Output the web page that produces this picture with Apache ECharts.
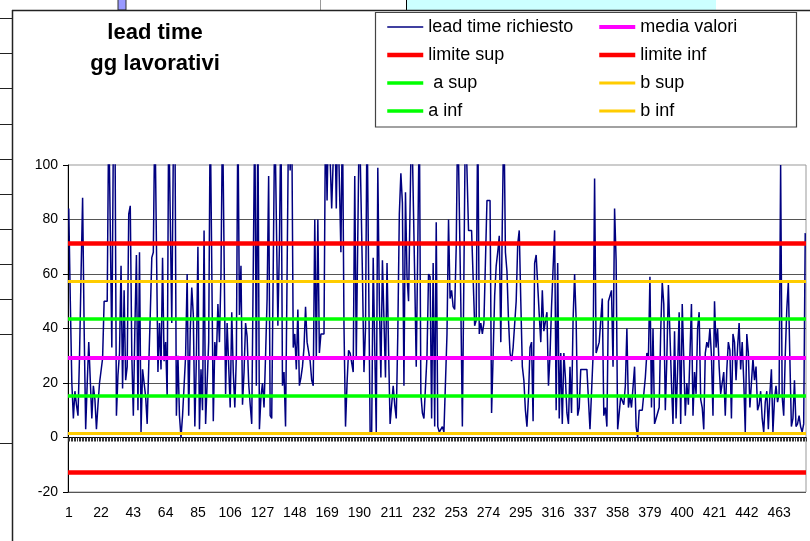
<!DOCTYPE html>
<html><head><meta charset="utf-8">
<script src="https://cdn.jsdelivr.net/npm/echarts@6/dist/echarts.min.js"></script>
<style>html,body{margin:0;padding:0;background:#fff}#c{width:810px;height:541px}</style>
</head><body><div id="c"></div>
<script>
// lead time richiesto (values above 100 are clipped by the axis)
const leadTime1 = [84,50,20,7,17,12,8,30,60,88, 40,3,20,35,35,7,19,14,3,12, 20,20,29,50,50,50,120,120,33,110, 120,
  8,23,31,63,18,54,21,26,82,85,30,8,40,67,10,68,2,25,20,15,5,26,45,66,68,120,120,24,42,25,66,28,35,15,120,120,42,105,120,8,30,8,0,8,8,30,60,8,39,55];
const leadTime2 = [45,4,29,70,3,25,10,76,5,5, 35,120,120,6,35,29,49,35,60,120, 120,16,42,42,11,46,24,11,30,120,45,
  63,12,24,42,37,20,12,5,5,120,19, 120,3,15,20,11,30,51,96,8,7,63, 120,120,41,70,120,19,24,4,60,120,98,120,
  33,38,25,47,19,22,26,33,48,35,35,28, 21,19,80,29];
const leadTime3 = [80,31,38,38,38,120,87,120,120,84, 84,120,84,120,120,68,120,41,4,20,32, 31,31,24,96,29,29,120,120,60,24,40,
  120,120,2,1,66,33,2,99,50,22,65, 65,22,64,32,5,5,19,12,7,38,82, 97,86,19,90,59,50,85,120,120,59,26,70,
  120,16,9,7,7,30,60,59,7,64,4, 79,4,2,3];
const leadTime4 = [4,2,20,38,80,51,54,48,47,70,120,120, 49,4,60,120,120,76,76,76,76,41,43, 120,38,42,38,42,42,87,87,87,9,30,
  52,63,68,74,35,80,120,68,61,43,31,28, 33,33,50,71,76,50,26,21,10,4,15,33, 35,6,64,67,67,45,35,54,39,39,46,
  19,30,48,48,76,10,64,7,31,5,31,22];
const leadTime5 = [9,5,26,9,43,60,43,8,11,25, 25,25,25,25,25,3,3,30,95,31,31,35, 43,51,8,11,4,50,50,54,26,
  84,65,3,3,15,15,12,19,40,11,15, 11,11,26,4,0,10,10,10,10,22, 31,29,59,11,40,5,7,9,11,39,57,
  49,10,29,56,38,20,5,39,7,25,46, 5,49,49,8,20,12,30];
const leadTime6 = [49,8,24,16,40,46,14,11,3,31, 35,33,40,30,8,50,33,40,26,16, 20,24,8,25,35,32,7,38,35,21,
  33,42,25,35,21,2,38,31,11,20, 29,21,26,10,12,17,7,2,13,17, 3,16,25,2,14,19,13,16,
  100, 15,8,30,47,57,29,4,7,21,4,5,8,4,2,5,75];
const leadTime = [].concat(leadTime1, leadTime2, leadTime3, leadTime4, leadTime5, leadTime6);
const categories = leadTime.map((v, i) => String(i + 1));

// reference levels
const mediaValori = 29.3;
const limiteSup = 71.3;
const limiteInf = -12.9;
const aSup = 43.7;
const aInf = 15.4;
const bSup = 57.5;
const bInf = 1.6;

const yMin = -20, yMax = 100, yStep = 20;
const FONT = '"Liberation Sans", Arial, sans-serif';

// series styles
const STYLE = {
  'lead time richiesto': { color: '#000080', width: 1.5 },
  'media valori': { color: '#ff00ff', width: 4 },
  'limite sup': { color: '#ff0000', width: 4.5 },
  'limite inf': { color: '#ff0000', width: 4.5 },
  ' a sup': { color: '#00ff00', width: 3.5 },
  'b sup': { color: '#ffcc00', width: 3 },
  'a inf': { color: '#00ff00', width: 3.5 },
  'b inf': { color: '#ffcc00', width: 3 }
};

function hLine(name, value) {
  const { color, width } = STYLE[name];
  return {
    name, type: 'line', data: [], symbol: 'none', z: 4,
    lineStyle: { color, width }, itemStyle: { color },
    markLine: {
      silent: true, symbol: ['none', 'none'], label: { show: false }, animation: false,
      lineStyle: { color, width, type: 'solid' }, emphasis: { disabled: true },
      data: [{ yAxis: value }]
    }
  };
}
function legendItems(names) {
  return names.map(n => ({ name: n, lineStyle: { width: STYLE[n].width, color: STYLE[n].color } }));
}

const chart = echarts.init(document.getElementById('c'), null, { renderer: 'canvas' });
const legendCommon = {
  orient: 'vertical', top: 18, itemGap: 10, itemWidth: 36, itemHeight: 14, padding: 0, z: 6,
  itemStyle: { opacity: 0 },
  textStyle: { fontFamily: FONT, fontSize: 18, color: '#000', lineHeight: 18 },
  selectedMode: false
};
chart.setOption({
  animation: false,
  backgroundColor: '#fff',
  textStyle: { fontFamily: FONT },
  grid: { left: 68, right: 4, top: 165, bottom: 49, show: true, borderColor: '#999', borderWidth: 1, backgroundColor: 'transparent' },
  legend: [
    Object.assign({ left: 385, data: legendItems(['lead time richiesto', 'limite sup', ' a sup', 'a inf']) }, legendCommon),
    Object.assign({ left: 597, data: legendItems(['media valori', 'limite inf', 'b sup', 'b inf']) }, legendCommon)
  ],
  xAxis: [
    {
      type: 'category', data: categories, boundaryGap: true,
      axisLine: { onZero: true, lineStyle: { color: '#000', width: 1 } },
      axisTick: { show: true, interval: 0, length: 4, lineStyle: { color: '#333', width: 1 } },
      axisLabel: { show: false }, splitLine: { show: false }
    },
    {
      type: 'category', data: categories, boundaryGap: true, position: 'bottom',
      axisLine: { show: false, onZero: false }, axisTick: { show: false },
      axisLabel: { interval: 20, fontSize: 14, color: '#000', fontFamily: FONT, margin: 14 },
      splitLine: { show: false }
    }
  ],
  yAxis: {
    type: 'value', min: yMin, max: yMax, interval: yStep,
    axisLine: { show: true, lineStyle: { color: '#000', width: 1 } },
    axisTick: { show: true, length: 5, lineStyle: { color: '#000' } },
    axisLabel: { fontSize: 14, color: '#000', fontFamily: FONT, margin: 10 },
    splitLine: { show: true, showMaxLine: false, lineStyle: { color: '#555', width: 1 } }
  },
  series: [
    {
      name: 'lead time richiesto', type: 'line', data: leadTime, symbol: 'none', clip: true, z: 2,
      lineStyle: { color: STYLE['lead time richiesto'].color, width: STYLE['lead time richiesto'].width },
      itemStyle: { color: STYLE['lead time richiesto'].color }
    },
    hLine('media valori', mediaValori),
    hLine('limite sup', limiteSup),
    hLine('limite inf', limiteInf),
    hLine(' a sup', aSup),
    hLine('b sup', bSup),
    hLine('a inf', aInf),
    hLine('b inf', bInf)
  ],
  graphic: [
    // surroundings of the embedded chart object
    { type: 'rect', z: 1, shape: { x: 118, y: -1, width: 8, height: 11 }, style: { fill: '#9999ff', stroke: '#333', lineWidth: 1 } },
    { type: 'line', z: 1, shape: { x1: 320.5, y1: 0, x2: 320.5, y2: 10 }, style: { stroke: '#999', lineWidth: 1 } },
    { type: 'rect', z: 1, shape: { x: 406, y: -1, width: 310, height: 11 }, style: { fill: '#ccffff', stroke: null } },
    { type: 'line', z: 1, shape: { x1: 406.5, y1: 0, x2: 406.5, y2: 10 }, style: { stroke: '#000', lineWidth: 1 } },
    { type: 'group', z: 1, children: [18, 53, 88, 124, 159, 194, 229, 264, 299, 334, 443].map(y => (
      { type: 'line', shape: { x1: 0, y1: y + 0.5, x2: 12, y2: y + 0.5 }, style: { stroke: '#222', lineWidth: 1 } })) },
    { type: 'line', z: 2, shape: { x1: 12, y1: 10.5, x2: 810, y2: 10.5 }, style: { stroke: '#222', lineWidth: 1.5 } },
    { type: 'line', z: 2, shape: { x1: 12.5, y1: 10, x2: 12.5, y2: 541 }, style: { stroke: '#222', lineWidth: 1.5 } },
    // legend frame
    { type: 'rect', z: 2, shape: { x: 375.5, y: 12.5, width: 421, height: 114.5 }, style: { fill: '#fff', stroke: '#444', lineWidth: 1.2 } },
    // title
    { type: 'text', z: 3, x: 155, y: 32.5, style: { text: 'lead time', fontFamily: FONT, fontSize: 22, fontWeight: 'bold', fill: '#000', align: 'center', verticalAlign: 'middle' } },
    { type: 'text', z: 3, x: 155, y: 63.5, style: { text: 'gg lavorativi', fontFamily: FONT, fontSize: 22, fontWeight: 'bold', fill: '#000', align: 'center', verticalAlign: 'middle' } }
  ]
});
</script></body></html>
